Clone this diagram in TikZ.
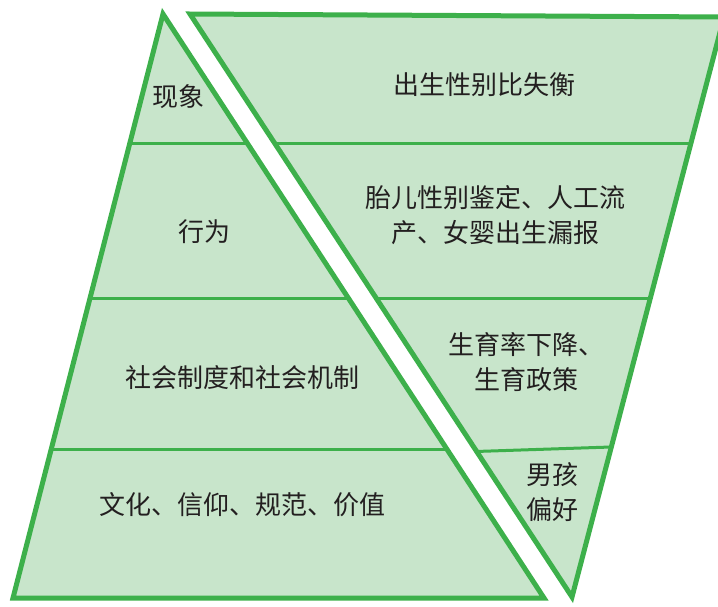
\documentclass[tikz,border=0pt]{standalone}
\usepackage{fontspec}
\newfontfamily\cjk{Noto Sans CJK SC}
\definecolor{fillg}{HTML}{C8E5CB}
\definecolor{lineg}{HTML}{3DB04B}
\definecolor{txt}{HTML}{231F20}
\tikzset{
  outer/.style={draw=lineg, line width=5pt, fill=fillg, line join=miter},
  inner/.style={draw=lineg, line width=3pt},
  lbl/.style={font=\cjk\fontsize{26}{35}\selectfont, text=txt, align=center, inner sep=0pt}
}
\begin{document}
\begin{tikzpicture}[x=1pt,y=-1pt]
\useasboundingbox (0,0) rectangle (718,606);
% left shape
\coordinate (LT) at (163,14);
\coordinate (LBL) at (13,598);
\coordinate (LBR) at (544,598);
\draw[outer] (LT) -- (LBL) -- (LBR) -- cycle;
\coordinate (l1a) at (129.9,143); \coordinate (l1b) at (247.2,143);
\coordinate (l2a) at (90.1,298);  \coordinate (l2b) at (348.3,298);
\coordinate (l3a) at (51.3,449);  \coordinate (l3b) at (446.8,449);
\draw[inner] (l1a) -- (l1b);
\draw[inner] (l2a) -- (l2b);
\draw[inner] (l3a) -- (l3b);
% right shape
\coordinate (RTL) at (190,14);
\coordinate (RTR) at (724,17);
\coordinate (RB) at (572,597);
\draw[outer] (RTL) -- (RTR) -- (RB) -- cycle;
\coordinate (r1a) at (274.5,143); \coordinate (r1b) at (691,143);
\coordinate (r2a) at (376,298);   \coordinate (r2b) at (650.4,298);
\coordinate (r3a) at (475.5,451.5); \coordinate (r3b) at (611,447);
\draw[inner] (r1a) -- (r1b);
\draw[inner] (r2a) -- (r2b);
\draw[inner] (r3a) -- (r3b);
% labels
\node[lbl] (t1) at (178,97) {现象};
\node[lbl] (t2) at (204,232) {行为};
\node[lbl] (t3) at (242,378) {社会制度和社会机制};
\node[lbl] (t4) at (242,505) {文化、信仰、规范、价值};
\node[lbl] (u1) at (484,85) {出生性别比失衡};
\node[lbl] (u2) at (495,215) {胎儿性别鉴定、人工流\\产、女婴出生漏报};
\node[lbl] (u3) at (526,362) {生育率下降、\\生育政策};
\node[lbl] (u4) at (552,492) {男孩\\偏好};
\end{tikzpicture}
\end{document}
